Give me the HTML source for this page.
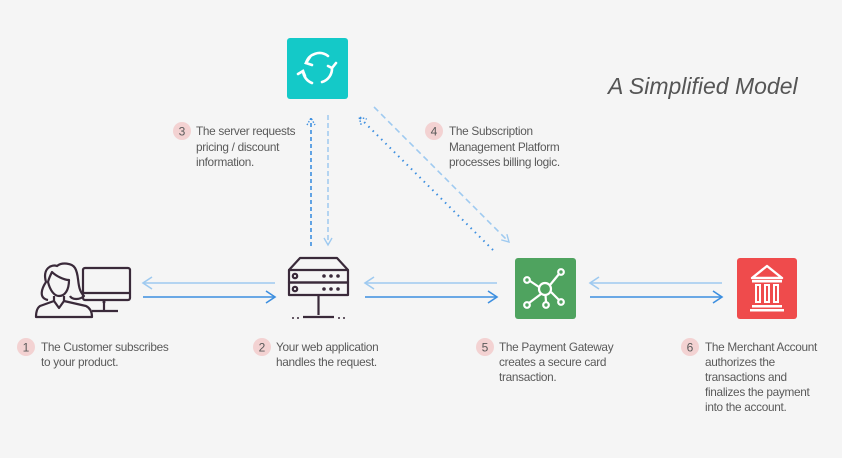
<!DOCTYPE html>
<html><head><meta charset="utf-8"><style>
html,body{margin:0;padding:0;background:#f5f5f5;}
svg{display:block;}
text{font-family:"Liberation Sans",sans-serif;fill:#5a5a5a;}
.l{font-size:11.8px;letter-spacing:-0.3px;}
</style></head><body>
<svg width="842" height="458" viewBox="0 0 842 458" xmlns="http://www.w3.org/2000/svg">
<rect width="842" height="458" fill="#f5f5f5"/>
<defs>
<marker id="ad" markerWidth="12" markerHeight="14" refX="10" refY="7" orient="auto" markerUnits="userSpaceOnUse"><path d="M1,1 L10,7 L1,13" fill="none" stroke="#3d8fe0" stroke-width="1.6"/></marker>
<marker id="al" markerWidth="12" markerHeight="14" refX="10" refY="7" orient="auto" markerUnits="userSpaceOnUse"><path d="M1,1 L10,7 L1,13" fill="none" stroke="#9fcaf0" stroke-width="1.6"/></marker>
<marker id="sd" markerWidth="10" markerHeight="10" refX="8" refY="5" orient="auto" markerUnits="userSpaceOnUse"><path d="M1,1 L8,5 L1,9" fill="none" stroke="#3d8fe0" stroke-width="1.4" stroke-dasharray="1.5 1.5"/></marker>
<marker id="sl" markerWidth="10" markerHeight="10" refX="8" refY="5" orient="auto" markerUnits="userSpaceOnUse"><path d="M1,1 L8,5 L1,9" fill="none" stroke="#9fcaf0" stroke-width="1.4"/></marker>
</defs>

<text x="608" y="94" font-size="23" font-style="italic" style="fill:#555">A Simplified Model</text>

<!-- teal box -->
<rect x="287" y="38" width="61" height="61" rx="3" fill="#14c9c8"/>
<g fill="none" stroke="#fff" stroke-width="2.6" stroke-linecap="round">
<path d="M306,63 A14,14 0 0 1 328,56"/>
<path d="M332,68 A14,14 0 0 1 322,82"/>
<path d="M312,83 A14,14 0 0 1 303,71"/>
<path d="M310,57 L306,63 L312,65"/>
<path d="M328,66 L332,68 L336,63"/>
<path d="M305,76 L303,71 L298,74"/>
</g>

<line x1="311" y1="246" x2="311" y2="118" stroke="#3d8fe0" stroke-width="1.6" stroke-dasharray="4 3" marker-end="url(#sd)"/>
<line x1="328" y1="115" x2="328" y2="245" stroke="#9fcaf0" stroke-width="1.5" stroke-dasharray="5 3" marker-end="url(#sl)"/>
<line x1="493" y1="250" x2="359" y2="117" stroke="#3d8fe0" stroke-width="2" stroke-dasharray="1.5 4.5" marker-end="url(#sd)"/>
<line x1="374" y1="107" x2="509" y2="242" stroke="#9fcaf0" stroke-width="1.6" stroke-dasharray="6 4" marker-end="url(#sl)"/>

<circle cx="182" cy="131" r="9" fill="#f3d2d2"/><text x="182" y="135.5" font-size="12" text-anchor="middle">3</text>
<text class="l"><tspan x="196" y="135">The server requests</tspan><tspan x="196" y="151">pricing / discount</tspan><tspan x="196" y="166">information.</tspan></text>
<circle cx="434" cy="131" r="9" fill="#f3d2d2"/><text x="434" y="135.5" font-size="12" text-anchor="middle">4</text>
<text class="l"><tspan x="449" y="135">The Subscription</tspan><tspan x="449" y="151">Management Platform</tspan><tspan x="449" y="166">processes billing logic.</tspan></text>

<line x1="275" y1="283" x2="143" y2="283" stroke="#9fcaf0" stroke-width="1.6" marker-end="url(#al)"/>
<line x1="143" y1="297" x2="275" y2="297" stroke="#3d8fe0" stroke-width="1.6" marker-end="url(#ad)"/>
<line x1="497" y1="283" x2="365" y2="283" stroke="#9fcaf0" stroke-width="1.6" marker-end="url(#al)"/>
<line x1="365" y1="297" x2="497" y2="297" stroke="#3d8fe0" stroke-width="1.6" marker-end="url(#ad)"/>
<line x1="722" y1="283" x2="590" y2="283" stroke="#9fcaf0" stroke-width="1.6" marker-end="url(#al)"/>
<line x1="590" y1="297" x2="722" y2="297" stroke="#3d8fe0" stroke-width="1.6" marker-end="url(#ad)"/>

<g fill="none" stroke="#3a2a3a" stroke-width="2.2" stroke-linejoin="round">
<rect x="83" y="268" width="47" height="32" rx="2"/>
<line x1="83" y1="293" x2="130" y2="293"/>
<line x1="104" y1="300" x2="104" y2="311"/>
<line x1="92" y1="311" x2="118" y2="311"/>
<path d="M48,300 C38,298 42,288 46,282 C42,268 52,264 57,266 C62,262 72,263 75,268 C80,276 76,288 84,296 C80,300 72,300 70,296"/>
<path d="M48,282 C50,290 54,296 59,296 C65,296 69,290 69,280 C64,280 56,276 52,272 C50,276 49,278 48,282Z"/>
<path d="M54,296 L54,301 L40,306 C37,308 36,312 36,317 L92,317 C92,312 90,308 86,306 L64,301 L64,296"/>
<path d="M54,301 L59,308 L64,301"/>
</g>
<circle cx="104" cy="302" r="1.5" fill="#3a2a3a"/>

<g fill="none" stroke="#3a2a3a" stroke-width="2.2" stroke-linejoin="round">
<path d="M289,270 L300,258 L337,258 L348,270"/>
<rect x="289" y="270" width="59" height="12.5"/>
<rect x="289" y="282.5" width="59" height="12.5"/>
<circle cx="295" cy="276" r="2.2"/><circle cx="295" cy="289" r="2.2"/>
<line x1="318.5" y1="295" x2="318.5" y2="315"/>
<line x1="303" y1="317" x2="334" y2="317"/>
</g>
<g fill="#3a2a3a">
<circle cx="324" cy="276" r="1.8"/><circle cx="331" cy="276" r="1.8"/><circle cx="338" cy="276" r="1.8"/>
<circle cx="324" cy="289" r="1.8"/><circle cx="331" cy="289" r="1.8"/><circle cx="338" cy="289" r="1.8"/>
<circle cx="293" cy="318" r="1"/><circle cx="298" cy="318" r="1"/><circle cx="339" cy="318" r="1"/><circle cx="344" cy="318" r="1"/>
</g>

<rect x="515" y="258" width="61" height="61" rx="3" fill="#4fa35f"/>
<g fill="none" stroke="#fff" stroke-width="2.2">
<circle cx="545" cy="289" r="6"/>
<circle cx="527" cy="280" r="2.8"/><circle cx="561" cy="272" r="2.8"/><circle cx="561" cy="302" r="2.8"/><circle cx="527" cy="305" r="2.8"/><circle cx="546" cy="305" r="2.8"/>
<line x1="530" y1="281" x2="539" y2="287"/><line x1="550" y1="285" x2="559" y2="274"/><line x1="551" y1="292" x2="559" y2="300"/><line x1="541" y1="294" x2="529" y2="303"/><line x1="545.5" y1="295" x2="546" y2="302"/>
</g>

<rect x="737" y="258" width="60" height="61" rx="3" fill="#ef4b4c"/>
<g fill="#fff">
<path d="M752,278 L767,266 L782,278 Z" fill="none" stroke="#fff" stroke-width="2.4" stroke-linejoin="round"/>
<rect x="752" y="280" width="30" height="2.5"/>
<rect x="752" y="305" width="30" height="2.5"/>
<rect x="750" y="309" width="34" height="2.5"/>
</g>
<g fill="none" stroke="#fff" stroke-width="2">
<rect x="756" y="285" width="4" height="17"/><rect x="765" y="285" width="4" height="17"/><rect x="774" y="285" width="4" height="17"/>
</g>

<circle cx="26" cy="347" r="9" fill="#f3d2d2"/><text x="26" y="351.5" font-size="12" text-anchor="middle">1</text>
<text class="l"><tspan x="41" y="351">The Customer subscribes</tspan><tspan x="41" y="366">to your product.</tspan></text>
<circle cx="262" cy="347" r="9" fill="#f3d2d2"/><text x="262" y="351.5" font-size="12" text-anchor="middle">2</text>
<text class="l"><tspan x="276" y="351">Your web application</tspan><tspan x="276" y="366">handles the request.</tspan></text>
<circle cx="485" cy="347" r="9" fill="#f3d2d2"/><text x="485" y="351.5" font-size="12" text-anchor="middle">5</text>
<text class="l"><tspan x="499" y="351">The Payment Gateway</tspan><tspan x="499" y="366">creates a secure card</tspan><tspan x="499" y="381">transaction.</tspan></text>
<circle cx="690" cy="347" r="9" fill="#f3d2d2"/><text x="690" y="351.5" font-size="12" text-anchor="middle">6</text>
<text class="l"><tspan x="705" y="351">The Merchant Account</tspan><tspan x="705" y="366">authorizes the</tspan><tspan x="705" y="381">transactions and</tspan><tspan x="705" y="396">finalizes the payment</tspan><tspan x="705" y="411">into the account.</tspan></text>
</svg>
</body></html>
